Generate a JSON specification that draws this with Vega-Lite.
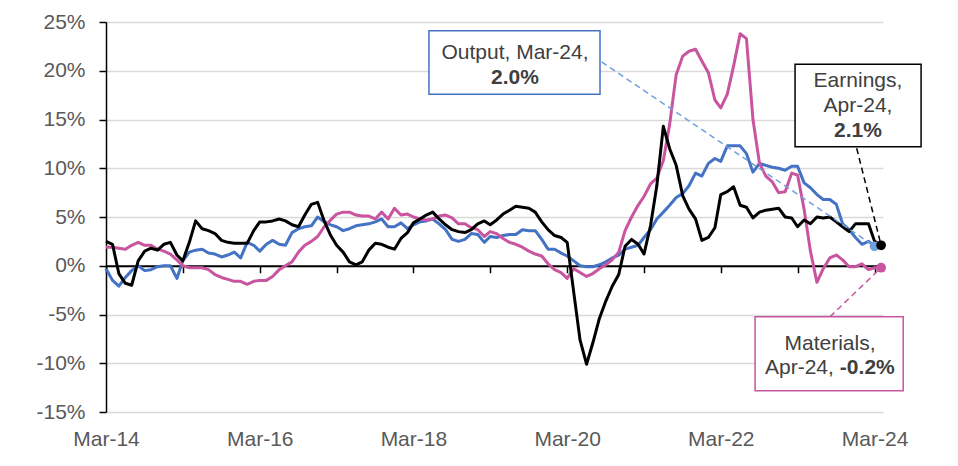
{
  "$schema": "https://vega.github.io/schema/vega-lite/v6.json",
  "width": 777,
  "height": 390,
  "autosize": {"type": "none"},
  "padding": {"left": 106, "top": 22, "right": 75, "bottom": 54},
  "background": "white",
  "config": {
    "view": {"stroke": null},
    "font": "Liberation Sans",
    "axisY": {
      "grid": true,
      "gridColor": "#D9D9D9",
      "gridWidth": 1.5,
      "domainColor": "#000000",
      "domainWidth": 1.5,
      "tickColor": "#000000",
      "tickSize": 7,
      "tickWidth": 1.5,
      "labelFontSize": 21,
      "labelColor": "#595959",
      "labelPadding": 14,
      "labelExpr": "datum.value + '%'",
      "title": null
    }
  },
  "datasets": {
    "earnings": [
      {"date": "2014-03", "value": 2.5}, {"date": "2014-04", "value": 2.2}, {"date": "2014-05", "value": -0.8}, {"date": "2014-06", "value": -1.8},
      {"date": "2014-07", "value": -2.0}, {"date": "2014-08", "value": 0.5}, {"date": "2014-09", "value": 1.5}, {"date": "2014-10", "value": 1.8},
      {"date": "2014-11", "value": 1.6}, {"date": "2014-12", "value": 2.2},
      {"date": "2015-01", "value": 2.4}, {"date": "2015-02", "value": 1.1}, {"date": "2015-03", "value": 0.5}, {"date": "2015-04", "value": 2.4},
      {"date": "2015-05", "value": 4.6}, {"date": "2015-06", "value": 3.8}, {"date": "2015-07", "value": 3.6}, {"date": "2015-08", "value": 3.3},
      {"date": "2015-09", "value": 2.6}, {"date": "2015-10", "value": 2.4}, {"date": "2015-11", "value": 2.3}, {"date": "2015-12", "value": 2.3},
      {"date": "2016-01", "value": 2.3}, {"date": "2016-02", "value": 3.6}, {"date": "2016-03", "value": 4.5}, {"date": "2016-04", "value": 4.5},
      {"date": "2016-05", "value": 4.6}, {"date": "2016-06", "value": 4.8}, {"date": "2016-07", "value": 4.6}, {"date": "2016-08", "value": 4.2},
      {"date": "2016-09", "value": 4.0}, {"date": "2016-10", "value": 5.2}, {"date": "2016-11", "value": 6.3}, {"date": "2016-12", "value": 6.5},
      {"date": "2017-01", "value": 4.6}, {"date": "2017-02", "value": 3.1}, {"date": "2017-03", "value": 2.1}, {"date": "2017-04", "value": 1.4},
      {"date": "2017-05", "value": 0.4}, {"date": "2017-06", "value": 0.1}, {"date": "2017-07", "value": 0.4}, {"date": "2017-08", "value": 1.6},
      {"date": "2017-09", "value": 2.3}, {"date": "2017-10", "value": 2.2}, {"date": "2017-11", "value": 1.9}, {"date": "2017-12", "value": 1.7},
      {"date": "2018-01", "value": 2.8}, {"date": "2018-02", "value": 3.4}, {"date": "2018-03", "value": 4.4}, {"date": "2018-04", "value": 4.8},
      {"date": "2018-05", "value": 5.2}, {"date": "2018-06", "value": 5.5}, {"date": "2018-07", "value": 4.8}, {"date": "2018-08", "value": 4.2},
      {"date": "2018-09", "value": 3.7}, {"date": "2018-10", "value": 3.5}, {"date": "2018-11", "value": 3.4}, {"date": "2018-12", "value": 3.7},
      {"date": "2019-01", "value": 4.3}, {"date": "2019-02", "value": 4.6}, {"date": "2019-03", "value": 4.2}, {"date": "2019-04", "value": 4.7},
      {"date": "2019-05", "value": 5.3}, {"date": "2019-06", "value": 5.7}, {"date": "2019-07", "value": 6.1}, {"date": "2019-08", "value": 6.0},
      {"date": "2019-09", "value": 5.9}, {"date": "2019-10", "value": 5.5}, {"date": "2019-11", "value": 4.5}, {"date": "2019-12", "value": 3.7},
      {"date": "2020-01", "value": 3.1}, {"date": "2020-02", "value": 2.9}, {"date": "2020-03", "value": 2.4}, {"date": "2020-04", "value": -2.7},
      {"date": "2020-05", "value": -7.6}, {"date": "2020-06", "value": -10.1}, {"date": "2020-07", "value": -7.9}, {"date": "2020-08", "value": -5.4},
      {"date": "2020-09", "value": -3.6}, {"date": "2020-10", "value": -2.1}, {"date": "2020-11", "value": -0.9}, {"date": "2020-12", "value": 2.0},
      {"date": "2021-01", "value": 2.7}, {"date": "2021-02", "value": 2.2}, {"date": "2021-03", "value": 1.2}, {"date": "2021-04", "value": 4.1},
      {"date": "2021-05", "value": 8.2}, {"date": "2021-06", "value": 14.3}, {"date": "2021-07", "value": 12.0}, {"date": "2021-08", "value": 10.3},
      {"date": "2021-09", "value": 7.2}, {"date": "2021-10", "value": 5.8}, {"date": "2021-11", "value": 4.8}, {"date": "2021-12", "value": 2.6},
      {"date": "2022-01", "value": 2.9}, {"date": "2022-02", "value": 3.9}, {"date": "2022-03", "value": 7.3}, {"date": "2022-04", "value": 7.6},
      {"date": "2022-05", "value": 8.1}, {"date": "2022-06", "value": 6.2}, {"date": "2022-07", "value": 6.0}, {"date": "2022-08", "value": 4.9},
      {"date": "2022-09", "value": 5.5}, {"date": "2022-10", "value": 5.7}, {"date": "2022-11", "value": 5.8}, {"date": "2022-12", "value": 5.9},
      {"date": "2023-01", "value": 5.0}, {"date": "2023-02", "value": 4.9}, {"date": "2023-03", "value": 4.0}, {"date": "2023-04", "value": 4.7},
      {"date": "2023-05", "value": 4.3}, {"date": "2023-06", "value": 5.0}, {"date": "2023-07", "value": 4.9}, {"date": "2023-08", "value": 5.0},
      {"date": "2023-09", "value": 4.5}, {"date": "2023-10", "value": 4.0}, {"date": "2023-11", "value": 3.5}, {"date": "2023-12", "value": 4.3},
      {"date": "2024-01", "value": 4.3}, {"date": "2024-02", "value": 4.3}, {"date": "2024-03", "value": 2.5}, {"date": "2024-04", "value": 2.1}
    ],
    "output": [
      {"date": "2014-03", "value": -0.3}, {"date": "2014-04", "value": -1.5}, {"date": "2014-05", "value": -2.1}, {"date": "2014-06", "value": -1.2},
      {"date": "2014-07", "value": -0.5}, {"date": "2014-08", "value": 0.0}, {"date": "2014-09", "value": -0.5}, {"date": "2014-10", "value": -0.4},
      {"date": "2014-11", "value": -0.1}, {"date": "2014-12", "value": 0.0},
      {"date": "2015-01", "value": 0.0}, {"date": "2015-02", "value": -1.3}, {"date": "2015-03", "value": 0.5}, {"date": "2015-04", "value": 1.4},
      {"date": "2015-05", "value": 1.6}, {"date": "2015-06", "value": 1.7}, {"date": "2015-07", "value": 1.3}, {"date": "2015-08", "value": 1.2},
      {"date": "2015-09", "value": 0.9}, {"date": "2015-10", "value": 1.1}, {"date": "2015-11", "value": 1.4}, {"date": "2015-12", "value": 0.8},
      {"date": "2016-01", "value": 2.4}, {"date": "2016-02", "value": 2.1}, {"date": "2016-03", "value": 1.5}, {"date": "2016-04", "value": 2.2},
      {"date": "2016-05", "value": 2.6}, {"date": "2016-06", "value": 2.2}, {"date": "2016-07", "value": 2.1}, {"date": "2016-08", "value": 3.4},
      {"date": "2016-09", "value": 3.8}, {"date": "2016-10", "value": 4.0}, {"date": "2016-11", "value": 4.1}, {"date": "2016-12", "value": 5.0},
      {"date": "2017-01", "value": 4.5}, {"date": "2017-02", "value": 4.2}, {"date": "2017-03", "value": 4.0}, {"date": "2017-04", "value": 3.6},
      {"date": "2017-05", "value": 3.8}, {"date": "2017-06", "value": 4.1}, {"date": "2017-07", "value": 4.2}, {"date": "2017-08", "value": 4.3},
      {"date": "2017-09", "value": 4.5}, {"date": "2017-10", "value": 4.8}, {"date": "2017-11", "value": 4.0}, {"date": "2017-12", "value": 4.0},
      {"date": "2018-01", "value": 4.4}, {"date": "2018-02", "value": 3.8}, {"date": "2018-03", "value": 4.2}, {"date": "2018-04", "value": 4.5},
      {"date": "2018-05", "value": 4.6}, {"date": "2018-06", "value": 4.8}, {"date": "2018-07", "value": 4.3}, {"date": "2018-08", "value": 3.7},
      {"date": "2018-09", "value": 2.7}, {"date": "2018-10", "value": 2.5}, {"date": "2018-11", "value": 2.7}, {"date": "2018-12", "value": 3.3},
      {"date": "2019-01", "value": 3.2}, {"date": "2019-02", "value": 2.4}, {"date": "2019-03", "value": 3.0}, {"date": "2019-04", "value": 2.9},
      {"date": "2019-05", "value": 3.1}, {"date": "2019-06", "value": 3.2}, {"date": "2019-07", "value": 3.2}, {"date": "2019-08", "value": 3.7},
      {"date": "2019-09", "value": 3.6}, {"date": "2019-10", "value": 3.6}, {"date": "2019-11", "value": 2.7}, {"date": "2019-12", "value": 1.7},
      {"date": "2020-01", "value": 1.7}, {"date": "2020-02", "value": 1.3}, {"date": "2020-03", "value": 1.0}, {"date": "2020-04", "value": 0.5},
      {"date": "2020-05", "value": 0.0}, {"date": "2020-06", "value": -0.1}, {"date": "2020-07", "value": -0.1}, {"date": "2020-08", "value": 0.1},
      {"date": "2020-09", "value": 0.4}, {"date": "2020-10", "value": 0.8}, {"date": "2020-11", "value": 1.1}, {"date": "2020-12", "value": 1.7},
      {"date": "2021-01", "value": 1.9}, {"date": "2021-02", "value": 2.1}, {"date": "2021-03", "value": 2.9}, {"date": "2021-04", "value": 3.7},
      {"date": "2021-05", "value": 4.8}, {"date": "2021-06", "value": 5.5}, {"date": "2021-07", "value": 6.2}, {"date": "2021-08", "value": 7.0},
      {"date": "2021-09", "value": 7.4}, {"date": "2021-10", "value": 8.2}, {"date": "2021-11", "value": 9.5}, {"date": "2021-12", "value": 9.2},
      {"date": "2022-01", "value": 10.5}, {"date": "2022-02", "value": 11.0}, {"date": "2022-03", "value": 10.7}, {"date": "2022-04", "value": 12.3},
      {"date": "2022-05", "value": 12.3}, {"date": "2022-06", "value": 12.3}, {"date": "2022-07", "value": 11.5}, {"date": "2022-08", "value": 9.6},
      {"date": "2022-09", "value": 10.5}, {"date": "2022-10", "value": 10.3}, {"date": "2022-11", "value": 10.1}, {"date": "2022-12", "value": 10.0},
      {"date": "2023-01", "value": 9.8}, {"date": "2023-02", "value": 10.2}, {"date": "2023-03", "value": 10.2}, {"date": "2023-04", "value": 8.5},
      {"date": "2023-05", "value": 8.0}, {"date": "2023-06", "value": 7.3}, {"date": "2023-07", "value": 6.8}, {"date": "2023-08", "value": 6.8},
      {"date": "2023-09", "value": 6.3}, {"date": "2023-10", "value": 4.3}, {"date": "2023-11", "value": 3.7}, {"date": "2023-12", "value": 2.9},
      {"date": "2024-01", "value": 2.2}, {"date": "2024-02", "value": 2.5}, {"date": "2024-03", "value": 2.0}
    ],
    "materials": [
      {"date": "2014-03", "value": 1.9}, {"date": "2014-04", "value": 1.9}, {"date": "2014-05", "value": 1.8}, {"date": "2014-06", "value": 1.7},
      {"date": "2014-07", "value": 2.1}, {"date": "2014-08", "value": 2.4}, {"date": "2014-09", "value": 2.1}, {"date": "2014-10", "value": 2.1},
      {"date": "2014-11", "value": 1.7}, {"date": "2014-12", "value": 1.5},
      {"date": "2015-01", "value": 1.2}, {"date": "2015-02", "value": 0.6}, {"date": "2015-03", "value": 0.0}, {"date": "2015-04", "value": -0.2},
      {"date": "2015-05", "value": -0.2}, {"date": "2015-06", "value": -0.2}, {"date": "2015-07", "value": -0.4}, {"date": "2015-08", "value": -0.9},
      {"date": "2015-09", "value": -1.2}, {"date": "2015-10", "value": -1.4}, {"date": "2015-11", "value": -1.6}, {"date": "2015-12", "value": -1.6},
      {"date": "2016-01", "value": -1.9}, {"date": "2016-02", "value": -1.6}, {"date": "2016-03", "value": -1.5}, {"date": "2016-04", "value": -1.5},
      {"date": "2016-05", "value": -1.1}, {"date": "2016-06", "value": -0.4}, {"date": "2016-07", "value": 0.0}, {"date": "2016-08", "value": 0.4},
      {"date": "2016-09", "value": 1.4}, {"date": "2016-10", "value": 2.1}, {"date": "2016-11", "value": 2.5}, {"date": "2016-12", "value": 3.0},
      {"date": "2017-01", "value": 4.0}, {"date": "2017-02", "value": 4.7}, {"date": "2017-03", "value": 5.3}, {"date": "2017-04", "value": 5.5},
      {"date": "2017-05", "value": 5.5}, {"date": "2017-06", "value": 5.2}, {"date": "2017-07", "value": 5.1}, {"date": "2017-08", "value": 5.1},
      {"date": "2017-09", "value": 4.8}, {"date": "2017-10", "value": 5.5}, {"date": "2017-11", "value": 4.8}, {"date": "2017-12", "value": 5.9},
      {"date": "2018-01", "value": 5.2}, {"date": "2018-02", "value": 5.3}, {"date": "2018-03", "value": 5.0}, {"date": "2018-04", "value": 4.8},
      {"date": "2018-05", "value": 4.7}, {"date": "2018-06", "value": 4.8}, {"date": "2018-07", "value": 5.1}, {"date": "2018-08", "value": 5.2},
      {"date": "2018-09", "value": 4.9}, {"date": "2018-10", "value": 4.3}, {"date": "2018-11", "value": 4.3}, {"date": "2018-12", "value": 3.9},
      {"date": "2019-01", "value": 3.7}, {"date": "2019-02", "value": 3.0}, {"date": "2019-03", "value": 3.5}, {"date": "2019-04", "value": 3.3},
      {"date": "2019-05", "value": 2.8}, {"date": "2019-06", "value": 2.4}, {"date": "2019-07", "value": 2.2}, {"date": "2019-08", "value": 1.9},
      {"date": "2019-09", "value": 1.5}, {"date": "2019-10", "value": 1.2}, {"date": "2019-11", "value": 1.0}, {"date": "2019-12", "value": 0.2},
      {"date": "2020-01", "value": -0.4}, {"date": "2020-02", "value": -0.7}, {"date": "2020-03", "value": -1.3}, {"date": "2020-04", "value": -0.3},
      {"date": "2020-05", "value": -0.7}, {"date": "2020-06", "value": -1.1}, {"date": "2020-07", "value": -0.8}, {"date": "2020-08", "value": -0.3},
      {"date": "2020-09", "value": 0.1}, {"date": "2020-10", "value": 0.6}, {"date": "2020-11", "value": 1.4}, {"date": "2020-12", "value": 3.6},
      {"date": "2021-01", "value": 5.0}, {"date": "2021-02", "value": 6.2}, {"date": "2021-03", "value": 7.1}, {"date": "2021-04", "value": 8.4},
      {"date": "2021-05", "value": 9.0}, {"date": "2021-06", "value": 10.8}, {"date": "2021-07", "value": 14.5}, {"date": "2021-08", "value": 19.6},
      {"date": "2021-09", "value": 21.5}, {"date": "2021-10", "value": 22.0}, {"date": "2021-11", "value": 22.2}, {"date": "2021-12", "value": 21.0},
      {"date": "2022-01", "value": 19.8}, {"date": "2022-02", "value": 17.0}, {"date": "2022-03", "value": 16.2}, {"date": "2022-04", "value": 17.6},
      {"date": "2022-05", "value": 20.5}, {"date": "2022-06", "value": 23.8}, {"date": "2022-07", "value": 23.3}, {"date": "2022-08", "value": 15.0},
      {"date": "2022-09", "value": 10.5}, {"date": "2022-10", "value": 9.2}, {"date": "2022-11", "value": 8.6}, {"date": "2022-12", "value": 7.5},
      {"date": "2023-01", "value": 7.6}, {"date": "2023-02", "value": 9.5}, {"date": "2023-03", "value": 9.3}, {"date": "2023-04", "value": 5.8},
      {"date": "2023-05", "value": 1.5}, {"date": "2023-06", "value": -1.7}, {"date": "2023-07", "value": -0.3}, {"date": "2023-08", "value": 0.8},
      {"date": "2023-09", "value": 1.1}, {"date": "2023-10", "value": 0.6}, {"date": "2023-11", "value": -0.1}, {"date": "2023-12", "value": -0.1},
      {"date": "2024-01", "value": 0.2}, {"date": "2024-02", "value": -0.4}, {"date": "2024-03", "value": -0.2}, {"date": "2024-04", "value": -0.2}
    ],
    "ends": [
      {"series": "Output", "date": "2024-03", "value": 2.0, "from": "2020-08-12", "fromValue": 20.9},
      {"series": "Earnings", "date": "2024-04", "value": 2.1, "from": "2023-12-07", "fromValue": 12.05},
      {"series": "Materials", "date": "2024-04", "value": -0.2, "from": "2023-08-02", "fromValue": -5.23}
    ],
    "boxes": [
      {"series": "Output", "start": "2018-05-14", "end": "2020-08-04", "top": 24.1, "bottom": 17.6},
      {"series": "Earnings", "start": "2023-02-17", "end": "2024-10-08", "top": 20.66, "bottom": 12.21},
      {"series": "Materials", "start": "2022-08-11", "end": "2024-07-15", "top": -5.23, "bottom": -12.82}
    ],
    "labels": [
      {"date": "2019-06-27", "value": 21.2, "text": "Output, Mar-24,"},
      {"date": "2023-12-13", "value": 18.36, "text": "Earnings,"},
      {"date": "2023-12-13", "value": 15.8, "text": "Apr-24,"},
      {"date": "2023-08-02", "value": -8.64, "text": "Materials,"}
    ],
    "boldLabels": [
      {"date": "2019-06-27", "value": 18.6, "text": "2.0%"},
      {"date": "2023-12-13", "value": 13.24, "text": "2.1%"}
    ]
  },
  "resolve": {"axis": {"x": "independent"}},
  "layer": [
    {
      "data": {"name": "output"},
      "mark": {"type": "line", "color": "#4472C4", "strokeWidth": 3, "strokeJoin": "round"},
      "encoding": {
        "x": {
          "field": "date", "type": "temporal", "title": null,
          "scale": {"type": "utc", "domain": [{"year": 2014, "month": 3, "date": 1, "utc": true}, {"year": 2024, "month": 4, "date": 10, "utc": true}]},
          "axis": {
            "orient": "bottom",
            "values": [
              {"year": 2014, "month": 3, "date": 1, "utc": true}, {"year": 2016, "month": 3, "date": 1, "utc": true},
              {"year": 2018, "month": 3, "date": 1, "utc": true}, {"year": 2020, "month": 3, "date": 1, "utc": true},
              {"year": 2022, "month": 3, "date": 1, "utc": true}, {"year": 2024, "month": 3, "date": 1, "utc": true}
            ],
            "labelExpr": "utcFormat(datum.value, '%b-%y')",
            "labelFlush": false, "domain": false, "ticks": false, "grid": false,
            "labelFontSize": 21, "labelColor": "#595959", "labelPadding": 16, "title": null
          }
        },
        "y": {
          "field": "value", "type": "quantitative", "title": null,
          "scale": {"domain": [-15, 25], "nice": false, "zero": false},
          "axis": {"values": [-15, -10, -5, 0, 5, 10, 15, 20, 25], "title": null}
        }
      }
    },
    {
      "data": {"name": "materials"},
      "mark": {"type": "line", "color": "#C9549F", "strokeWidth": 3, "strokeJoin": "round"},
      "encoding": {
        "x": {"field": "date", "type": "temporal", "title": null, "axis": null,
          "scale": {"type": "utc", "domain": [{"year": 2014, "month": 3, "date": 1, "utc": true}, {"year": 2024, "month": 4, "date": 10, "utc": true}]}},
        "y": {"field": "value", "type": "quantitative", "title": null, "scale": {"domain": [-15, 25], "nice": false, "zero": false}}
      }
    },
    {
      "data": {"name": "earnings"},
      "mark": {"type": "line", "color": "#000000", "strokeWidth": 3, "strokeJoin": "round"},
      "encoding": {
        "x": {
          "field": "date", "type": "temporal", "title": null,
          "scale": {"type": "utc", "domain": [{"year": 2014, "month": 3, "date": 1, "utc": true}, {"year": 2024, "month": 4, "date": 10, "utc": true}]},
          "axis": {
            "orient": "bottom",
            "offset": -146.25,
            "values": [
              {"year": 2014, "month": 3, "date": 1, "utc": true}, {"year": 2015, "month": 3, "date": 1, "utc": true},
              {"year": 2016, "month": 3, "date": 1, "utc": true}, {"year": 2017, "month": 3, "date": 1, "utc": true},
              {"year": 2018, "month": 3, "date": 1, "utc": true}, {"year": 2019, "month": 3, "date": 1, "utc": true},
              {"year": 2020, "month": 3, "date": 1, "utc": true}, {"year": 2021, "month": 3, "date": 1, "utc": true},
              {"year": 2022, "month": 3, "date": 1, "utc": true}, {"year": 2023, "month": 3, "date": 1, "utc": true},
              {"year": 2024, "month": 3, "date": 1, "utc": true}
            ],
            "labels": false, "grid": false,
            "domain": true, "domainColor": "#000000", "domainWidth": 2,
            "ticks": true, "tickColor": "#000000", "tickSize": 7, "tickWidth": 1.5,
            "title": null
          }
        },
        "y": {"field": "value", "type": "quantitative", "title": null, "scale": {"domain": [-15, 25], "nice": false, "zero": false}}
      }
    },
    {
      "data": {"name": "ends"},
      "mark": {"type": "rule", "strokeWidth": 1.5, "strokeDash": [6, 4]},
      "encoding": {
        "x": {"field": "from", "type": "temporal", "title": null, "axis": null,
          "scale": {"type": "utc", "domain": [{"year": 2014, "month": 3, "date": 1, "utc": true}, {"year": 2024, "month": 4, "date": 10, "utc": true}]}},
        "x2": {"field": "date"},
        "y": {"field": "fromValue", "type": "quantitative", "title": null, "scale": {"domain": [-15, 25], "nice": false, "zero": false}},
        "y2": {"field": "value"},
        "color": {"field": "series", "type": "nominal", "legend": null,
          "scale": {"domain": ["Output", "Earnings", "Materials"], "range": ["#6FA0DC", "#000000", "#C9549F"]}}
      }
    },
    {
      "data": {"name": "boxes"},
      "mark": {"type": "rect", "fill": "white", "strokeWidth": 1.5},
      "encoding": {
        "x": {"field": "start", "type": "temporal", "title": null, "axis": null,
          "scale": {"type": "utc", "domain": [{"year": 2014, "month": 3, "date": 1, "utc": true}, {"year": 2024, "month": 4, "date": 10, "utc": true}]}},
        "x2": {"field": "end"},
        "y": {"field": "top", "type": "quantitative", "title": null, "scale": {"domain": [-15, 25], "nice": false, "zero": false}},
        "y2": {"field": "bottom"},
        "stroke": {"field": "series", "type": "nominal", "legend": null,
          "scale": {"domain": ["Output", "Earnings", "Materials"], "range": ["#4472C4", "#000000", "#C9549F"]}}
      }
    },
    {
      "data": {"name": "labels"},
      "mark": {"type": "text", "fontSize": 21, "color": "#404040", "align": "center", "baseline": "alphabetic"},
      "encoding": {
        "x": {"field": "date", "type": "temporal", "title": null, "axis": null,
          "scale": {"type": "utc", "domain": [{"year": 2014, "month": 3, "date": 1, "utc": true}, {"year": 2024, "month": 4, "date": 10, "utc": true}]}},
        "y": {"field": "value", "type": "quantitative", "title": null, "scale": {"domain": [-15, 25], "nice": false, "zero": false}},
        "text": {"field": "text"}
      }
    },
    {
      "data": {"name": "boldLabels"},
      "mark": {"type": "text", "fontSize": 21, "fontWeight": "bold", "color": "#404040", "align": "center", "baseline": "alphabetic"},
      "encoding": {
        "x": {"field": "date", "type": "temporal", "title": null, "axis": null,
          "scale": {"type": "utc", "domain": [{"year": 2014, "month": 3, "date": 1, "utc": true}, {"year": 2024, "month": 4, "date": 10, "utc": true}]}},
        "y": {"field": "value", "type": "quantitative", "title": null, "scale": {"domain": [-15, 25], "nice": false, "zero": false}},
        "text": {"field": "text"}
      }
    },
    {
      "data": {"values": [{"date": "2023-09-18", "value": -11.1, "text": "Apr-24,"}]},
      "mark": {"type": "text", "fontSize": 21, "color": "#404040", "align": "right", "baseline": "alphabetic", "dx": -6},
      "encoding": {
        "x": {"field": "date", "type": "temporal", "title": null, "axis": null,
          "scale": {"type": "utc", "domain": [{"year": 2014, "month": 3, "date": 1, "utc": true}, {"year": 2024, "month": 4, "date": 10, "utc": true}]}},
        "y": {"field": "value", "type": "quantitative", "title": null, "scale": {"domain": [-15, 25], "nice": false, "zero": false}},
        "text": {"field": "text"}
      }
    },
    {
      "data": {"values": [{"date": "2023-09-18", "value": -11.1, "text": "-0.2%"}]},
      "mark": {"type": "text", "fontSize": 21, "fontWeight": "bold", "color": "#404040", "align": "left", "baseline": "alphabetic"},
      "encoding": {
        "x": {"field": "date", "type": "temporal", "title": null, "axis": null,
          "scale": {"type": "utc", "domain": [{"year": 2014, "month": 3, "date": 1, "utc": true}, {"year": 2024, "month": 4, "date": 10, "utc": true}]}},
        "y": {"field": "value", "type": "quantitative", "title": null, "scale": {"domain": [-15, 25], "nice": false, "zero": false}},
        "text": {"field": "text"}
      }
    },
    {
      "data": {"name": "ends"},
      "mark": {"type": "point", "filled": true, "opacity": 1, "size": 95, "shape": "circle"},
      "encoding": {
        "x": {"field": "date", "type": "temporal", "title": null, "axis": null,
          "scale": {"type": "utc", "domain": [{"year": 2014, "month": 3, "date": 1, "utc": true}, {"year": 2024, "month": 4, "date": 10, "utc": true}]}},
        "y": {"field": "value", "type": "quantitative", "title": null, "scale": {"domain": [-15, 25], "nice": false, "zero": false}},
        "color": {"field": "series", "type": "nominal", "legend": null,
          "scale": {"domain": ["Output", "Earnings", "Materials"], "range": ["#6FA0DC", "#000000", "#C9549F"]}}
      }
    }
  ]
}
